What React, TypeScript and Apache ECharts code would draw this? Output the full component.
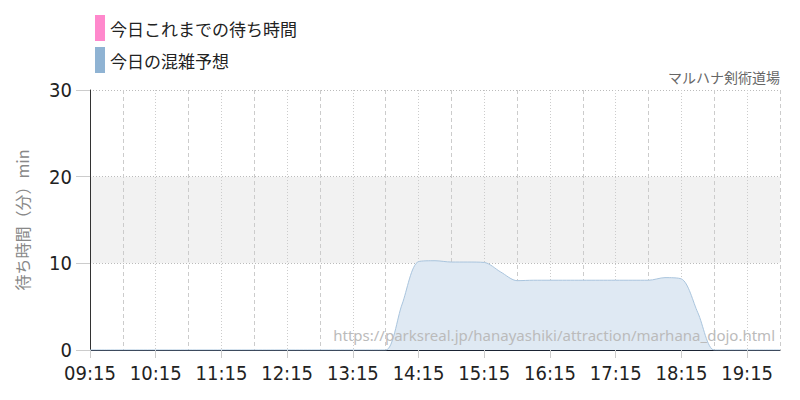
import React, { useEffect, useRef } from "react";
import * as echarts from "echarts";

const times: string[] = [
  "09:15","09:30","09:45","10:00","10:15","10:30","10:45","11:00","11:15","11:30","11:45","12:00",
  "12:15","12:30","12:45","13:00","13:15","13:30","13:45","14:00","14:15","14:30","14:45","15:00",
  "15:15","15:30","15:45","16:00","16:15","16:30","16:45","17:00","17:15","17:30","17:45","18:00",
  "18:15","18:30","18:45","19:00","19:15","19:30","19:45",
];
const forecast: number[] = [
  0,0,0,0,0,0,0,0,0,0,0,0,
  0,0,0,0,0,0,0,5.3,10.2,10.3,10.15,10.15,
  10.1,9.0,8.0,8.05,8.05,8.05,8.05,8.05,8.05,8.05,8.05,8.35,
  8.2,4.3,0,0,0,0,0,
];
const soFar: (number | null)[] = [];
const legendNames = ["今日これまでの待ち時間", "今日の混雑予想"];
const yTicks = [0, 10, 20, 30];

const numFont = "'DejaVu Sans Condensed', 'DejaVu Sans', sans-serif";
const jpFont = "'Noto Sans CJK JP', 'Noto Sans', sans-serif";

export default function App() {
  const ref = useRef<HTMLDivElement>(null);
  useEffect(() => {
    document.body.style.margin = "0";
    const chart = echarts.init(ref.current!, null, { renderer: "svg" });
    chart.setOption({
      animation: false,
      legend: {
        orient: "vertical",
        left: 90,
        top: 10,
        itemWidth: 10,
        itemHeight: 26,
        itemGap: 6,
        icon: "rect",
        data: legendNames,
        textStyle: { fontFamily: jpFont, fontSize: 17, color: "#222" },
      },
      grid: { left: 90, right: 20, top: 90, bottom: 50 },
      graphic: [
        {
          type: "text",
          right: 20,
          top: 70,
          style: { text: "マルハナ剣術道場", fontSize: 14, fill: "#666", fontFamily: jpFont },
        },
        {
          type: "text",
          right: 25,
          top: 327,
          z: 100,
          style: {
            text: "https://parksreal.jp/hanayashiki/attraction/marhana_dojo.html",
            fontSize: 15,
            fill: "#bbb",
            fontFamily: "'Noto Sans', sans-serif",
          },
        },
      ],
      xAxis: [
        {
          type: "category",
          data: times,
          boundaryGap: false,
          axisLine: { show: true, lineStyle: { color: "#1a2333", width: 1 } },
          axisTick: {
            show: true,
            length: 8,
            interval: (i: number) => i % 4 === 0,
            lineStyle: { color: "#ccc" },
          },
          axisLabel: {
            interval: (i: number) => i % 4 === 0,
            fontFamily: numFont,
            fontSize: 20,
            color: "#222",
            margin: 13,
          },
          splitLine: {
            show: true,
            interval: (i: number) => i % 4 === 0 && i > 0,
            lineStyle: { color: "#ccc", type: [1, 2] },
          },
        },
        {
          type: "category",
          data: times,
          boundaryGap: false,
          position: "bottom",
          axisLine: { show: false },
          axisTick: { show: false },
          axisLabel: { show: false },
          splitLine: {
            show: true,
            interval: (i: number) => i % 4 === 2,
            lineStyle: { color: "#ccc", type: [4, 3] },
          },
        },
      ],
      yAxis: {
        type: "value",
        min: 0,
        max: 30,
        interval: 10,
        name: "待ち時間（分）min",
        nameLocation: "middle",
        nameGap: 60,
        nameTextStyle: { fontFamily: jpFont, fontSize: 16, color: "#888" },
        axisLine: { show: true, lineStyle: { color: "#333" } },
        axisTick: { show: true, length: 14, lineStyle: { color: "#ccc" } },
        axisLabel: {
          fontFamily: numFont,
          fontSize: 20,
          color: "#222",
          margin: 18,
          formatter: (v: number) => (yTicks.includes(v) ? String(v) : ""),
        },
        splitLine: { show: true, lineStyle: { color: "#bbb", type: [1, 2] } },
        splitArea: { show: true, areaStyle: { color: ["rgba(0,0,0,0)", "#f2f2f2"] } },
      },
      series: [
        {
          name: legendNames[0],
          type: "line",
          data: soFar,
          itemStyle: { color: "#ff88cc" },
          showSymbol: false,
        },
        {
          name: legendNames[1],
          type: "line",
          data: forecast,
          smooth: 0.3,
          showSymbol: false,
          itemStyle: { color: "#8fb3d3" },
          lineStyle: { color: "#a9c4dd", width: 1 },
          areaStyle: { color: "#dfe9f3", opacity: 1 },
          z: 1,
        },
      ],
    });
    return () => chart.dispose();
  }, []);
  return <div ref={ref} style={{ width: 800, height: 400 }} />;
}
